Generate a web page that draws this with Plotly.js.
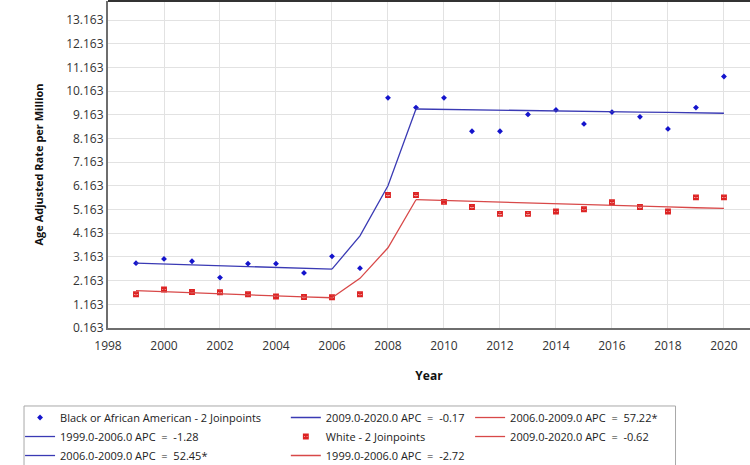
<!DOCTYPE html>
<html>
<head>
<meta charset="utf-8">
<script src="https://cdn.plot.ly/plotly-3.0.1.min.js"></script>
<style>
  html, body { margin: 0; padding: 0; background: #ffffff; }
  #chart { width: 750px; height: 465px; }
</style>
</head>
<body>
<div id="chart"></div>
<script>
// Age adjusted rate per million, by year, with joinpoint trend fits
const years = [1999, 2000, 2001, 2002, 2003, 2004, 2005, 2006, 2007, 2008, 2009,
               2010, 2011, 2012, 2013, 2014, 2015, 2016, 2017, 2018, 2019, 2020];

// Observed rates
const blackRates = [2.90, 3.08, 2.98, 2.29, 2.88, 2.88, 2.49, 3.19, 2.69, 9.88, 9.47,
                    9.88, 8.47, 8.47, 9.18, 9.37, 8.78, 9.28, 9.08, 8.57, 9.47, 10.78];
const whiteRates = [1.59, 1.79, 1.68, 1.67, 1.59, 1.49, 1.47, 1.46, 1.59, 5.78, 5.78,
                    5.49, 5.27, 4.98, 4.98, 5.08, 5.18, 5.47, 5.27, 5.08, 5.68, 5.68];

// Modelled (joinpoint) rates
const blackFit = [2.90, 2.86, 2.83, 2.79, 2.76, 2.72, 2.69, 2.65, 4.05, 6.17, 9.41,
                  9.39, 9.38, 9.36, 9.35, 9.33, 9.31, 9.30, 9.28, 9.27, 9.25, 9.23];
const whiteFit = [1.74, 1.69, 1.65, 1.60, 1.56, 1.52, 1.48, 1.44, 2.26, 3.55, 5.58,
                  5.55, 5.51, 5.48, 5.44, 5.41, 5.38, 5.34, 5.31, 5.28, 5.24, 5.21];

// Segments between joinpoints and their annual percent change
const segments = [[1999, 2006], [2006, 2009], [2009, 2020]];
const blackApc = ['-1.28', '52.45*', '-0.17'];
const whiteApc = ['-2.72', '57.22*', '-0.62'];

const xTicks = [1998, 2000, 2002, 2004, 2006, 2008, 2010, 2012, 2014, 2016, 2018, 2020];
const yTicks = [0.163, 1.163, 2.163, 3.163, 4.163, 5.163, 6.163, 7.163, 8.163, 9.163,
                10.163, 11.163, 12.163, 13.163];
const yTickText = ['0.163', '1.163', '2.163', '3.163', '4.163', '5.163', '6.163', '7.163',
                   '8.163', '9.163', '10.163', '11.163', '12.163', '13.163'];

const BLUE_PT = '#1414cc', BLUE_LN = '#3a3ab4';
const RED_PT = '#dd2222', RED_LN = '#d84848';

function segTrace(fit, seg, apc, color, legend) {
  const i0 = years.indexOf(seg[0]), i1 = years.indexOf(seg[1]);
  return {
    x: years.slice(i0, i1 + 1),
    y: fit.slice(i0, i1 + 1),
    mode: 'lines',
    type: 'scatter',
    line: { color: color, width: 1.3 },
    name: seg[0].toFixed(1) + '-' + seg[1].toFixed(1) + ' APC  =  ' + apc,
    legend: legend,
    hoverinfo: 'skip'
  };
}

const traces = [
  {
    x: years, y: blackRates, mode: 'markers', type: 'scatter',
    name: 'Black or African American - 2 Joinpoints',
    marker: { symbol: 'diamond', size: 4.5, color: BLUE_PT },
    legend: 'legend'
  },
  segTrace(blackFit, segments[0], blackApc[0], BLUE_LN, 'legend'),
  segTrace(blackFit, segments[1], blackApc[1], BLUE_LN, 'legend'),
  segTrace(blackFit, segments[2], blackApc[2], BLUE_LN, 'legend2'),
  {
    x: years, y: whiteRates, mode: 'markers', type: 'scatter',
    name: 'White - 2 Joinpoints',
    marker: { symbol: 'square-x-open', size: 4.5, color: RED_PT, line: { width: 1.4, color: RED_PT } },
    legend: 'legend2'
  },
  segTrace(whiteFit, segments[0], whiteApc[0], RED_LN, 'legend2'),
  segTrace(whiteFit, segments[1], whiteApc[1], RED_LN, 'legend3'),
  segTrace(whiteFit, segments[2], whiteApc[2], RED_LN, 'legend3')
];

const FONT = '"Open Sans", "Noto Sans", sans-serif';
const legendBase = {
  y: -0.2294, yanchor: 'top', xanchor: 'left', orientation: 'v',
  bgcolor: 'rgba(0,0,0,0)', borderwidth: 0,
  font: { family: FONT, size: 11, color: '#222222' },
  traceorder: 'normal'
};

const layout = {
  width: 750, height: 465,
  margin: { l: 108, r: 0, t: 1, b: 137, autoexpand: false },
  paper_bgcolor: '#ffffff', plot_bgcolor: '#ffffff',
  font: { family: FONT, size: 12, color: '#333333' },
  showlegend: true,
  legend: Object.assign({}, legendBase, { x: -0.137 }),
  legend2: Object.assign({}, legendBase, { x: 0.277 }),
  legend3: Object.assign({}, legendBase, { x: 0.564 }),
  xaxis: {
    range: [1998, 2020.93],
    tickvals: xTicks, ticktext: xTicks.map(String),
    ticks: '', ticklabelstandoff: 6,
    showgrid: true, gridcolor: '#e2e2e2', gridwidth: 1,
    showline: true, linecolor: '#6e6e6e', linewidth: 2,
    zeroline: false,
    tickfont: { family: FONT, size: 12, color: '#333333' },
    title: { text: 'Year', font: { family: FONT, size: 12, color: '#111111', weight: 'bold' }, standoff: 18 }
  },
  yaxis: {
    range: [0.163, 13.97],
    tickvals: yTicks, ticktext: yTickText,
    ticks: '', showgrid: true, gridcolor: '#e2e2e2', gridwidth: 1,
    showline: true, linecolor: '#6e6e6e', linewidth: 2,
    zeroline: false,
    tickfont: { family: FONT, size: 12, color: '#333333' },
    title: { text: 'Age Adjusted Rate per Million', font: { family: FONT, size: 11, color: '#111111', weight: 'bold' }, standoff: 20 }
  },
  shapes: [
    // frame line along the top of the plotting area
    { type: 'line', xref: 'paper', yref: 'paper', x0: 0, x1: 1, y0: 1, y1: 1,
      line: { color: '#333333', width: 2 } },
    // box around the legend entries
    { type: 'rect', xref: 'paper', yref: 'paper', x0: -0.1308, x1: 0.884, y0: -0.2385, y1: -0.45,
      line: { color: '#a8a8a8', width: 1 }, fillcolor: 'rgba(0,0,0,0)', layer: 'below' }
  ]
};

Plotly.newPlot('chart', traces, layout, { displayModeBar: false, staticPlot: true });
</script>
</body>
</html>
